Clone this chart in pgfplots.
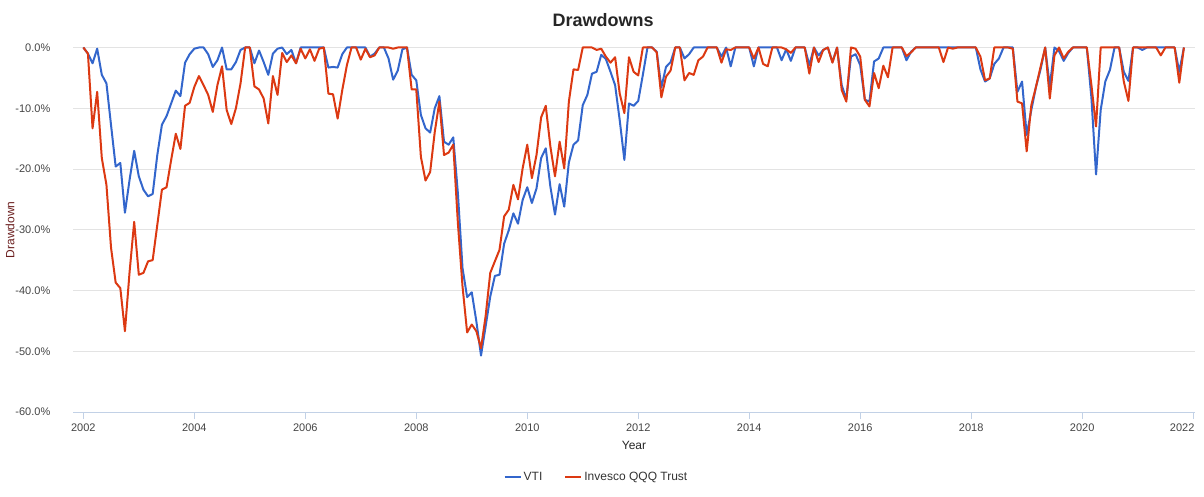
\documentclass[border=0pt]{standalone}
\usepackage{fontspec}
\setmainfont{Liberation Sans}
\usepackage{pgfplots}
\pgfplotsset{compat=1.18}
\usepackage{pgfplotstable}

\definecolor{vticol}{HTML}{3366CC}
\definecolor{qqqcol}{HTML}{DC3912}
\definecolor{gridcol}{HTML}{E3E3E3}
\definecolor{axiscol}{HTML}{C2D1E6}
\definecolor{tickcol}{HTML}{444444}
\definecolor{ylabcol}{HTML}{6B1F1F}

% month index (0 = end of Dec 2001), drawdown in percent
\pgfplotstableread{
m vti qqq
0 0 0
1 -1.0 -1.0
2 -2.6 -13.3
3 -0.2 -7.3
4 -4.5 -18.2
5 -5.9 -22.6
6 -12.8 -33.0
7 -19.6 -38.7
8 -19.0 -39.6
9 -27.2 -46.7
10 -21.8 -37.0
11 -17.0 -28.7
12 -21.2 -37.4
13 -23.4 -37.1
14 -24.5 -35.2
15 -24.1 -35.0
16 -17.7 -29.2
17 -12.7 -23.4
18 -11.3 -23.0
19 -9.2 -18.5
20 -7.1 -14.2
21 -8.0 -16.7
22 -2.5 -9.6
23 -1.1 -9.1
24 -0.2 -6.5
25 0 -4.7
26 0 -6.2
27 -1.1 -7.8
28 -3.2 -10.6
29 -2.1 -6.2
30 0 -3.1
31 -3.6 -10.3
32 -3.6 -12.6
33 -2.4 -10.0
34 -0.4 -5.9
35 0 0
36 0 0
37 -2.6 -6.4
38 -0.5 -6.9
39 -2.4 -8.4
40 -4.5 -12.5
41 -1.0 -4.7
42 -0.2 -7.8
43 0 -0.9
44 -1.1 -2.4
45 -0.4 -1.3
46 -2.6 -2.6
47 0 -0.2
48 0 -1.8
49 0 -0.3
50 0 -2.2
51 0 -0.2
52 0 0
53 -3.3 -7.6
54 -3.2 -7.7
55 -3.3 -11.7
56 -1.1 -7.0
57 0 -2.9
58 0 0
59 0 0
60 0 -2.0
61 0 -0.2
62 -1.5 -1.6
63 -1.0 -1.3
64 0 0
65 0 0
66 -1.8 0
67 -5.3 -0.2
68 -3.8 0
69 -0.3 0
70 0 0
71 -4.5 -6.9
72 -5.4 -6.9
73 -11.1 -18.0
74 -13.3 -21.9
75 -14.0 -20.5
76 -10.0 -13.9
77 -8.0 -8.9
78 -15.5 -17.7
79 -16.0 -17.3
80 -14.8 -16.0
81 -24.0 -28.9
82 -36.3 -39.3
83 -41.1 -46.9
84 -40.3 -45.6
85 -45.1 -46.7
86 -50.7 -49.5
87 -45.9 -44.2
88 -41.0 -37.1
89 -37.6 -35.2
90 -37.4 -33.3
91 -32.3 -27.8
92 -30.1 -26.7
93 -27.3 -22.6
94 -29.0 -25.0
95 -25.1 -19.9
96 -23.0 -16.0
97 -25.6 -21.5
98 -23.2 -17.7
99 -18.2 -11.5
100 -16.6 -9.6
101 -22.9 -16.3
102 -27.5 -21.2
103 -22.5 -15.5
104 -26.2 -19.9
105 -18.9 -8.9
106 -16.0 -3.6
107 -15.3 -3.7
108 -9.5 0
109 -7.8 0
110 -4.3 0
111 -4.0 -0.4
112 -1.2 -0.2
113 -1.9 -1.5
114 -4.0 -2.5
115 -6.2 -1.6
116 -12.0 -7.6
117 -18.5 -10.8
118 -9.2 -1.6
119 -9.6 -4.0
120 -8.8 -4.6
121 -4.5 0
122 0 0
123 0 0
124 -0.7 -0.8
125 -6.6 -8.2
126 -3.2 -4.8
127 -2.4 -3.8
128 0 0
129 0 0
130 -1.8 -5.4
131 -1.1 -4.2
132 0 -4.5
133 0 -2.1
134 0 -1.5
135 0 0
136 0 0
137 0 0
138 -1.5 -2.5
139 0 -0.3
140 -3.1 -0.4
141 0 0
142 0 0
143 0 0
144 0 0
145 -3.1 -1.8
146 0 0
147 0 -2.7
148 0 -3.1
149 0 0
150 0 0
151 -2.1 0
152 -0.3 -0.3
153 -2.2 -0.9
154 0 0
155 0 0
156 0 0
157 -2.9 -4.3
158 0 0
159 -1.3 -2.4
160 -0.4 -0.4
161 0 0
162 -2.4 -2.5
163 0 0
164 -6.2 -7.0
165 -8.5 -8.9
166 -1.5 0
167 -1.1 -0.2
168 -2.9 -1.5
169 -8.6 -8.6
170 -8.9 -9.7
171 -2.3 -4.2
172 -1.8 -6.7
173 0 -3.0
174 0 -4.9
175 0 0
176 0 0
177 0 0
178 -2.1 -1.4
179 -0.7 -0.8
180 0 0
181 0 0
182 0 0
183 0 0
184 0 0
185 0 0
186 0 -2.4
187 0 0
188 0 -0.2
189 0 0
190 0 0
191 0 0
192 0 0
193 0 0
194 -3.6 -1.5
195 -5.6 -5.4
196 -5.1 -5.1
197 -2.7 0
198 -1.8 0
199 0 0
200 0 0
201 0 -0.2
202 -7.3 -8.9
203 -5.6 -9.2
204 -14.4 -17.1
205 -10.3 -9.5
206 -6.5 -6.5
207 -3.6 -3.2
208 0 0
209 -6.4 -8.4
210 0 -1.3
211 -0.6 0
212 -2.2 -1.8
213 -0.9 -0.7
214 0 0
215 0 0
216 0 0
217 0 0
218 -8.3 -6.2
219 -20.9 -13.0
220 -10.3 0
221 -5.6 0
222 -3.7 0
223 0 0
224 0 0
225 -4.0 -5.6
226 -5.5 -8.8
227 0 0
228 0 0
229 -0.4 0
230 0 0
231 0 0
232 0 0
233 0 -1.3
234 0 0
235 0 0
236 0 0
237 -4.0 -5.8
238 0 0
}\dd

\begin{document}
\begin{tikzpicture}
\useasboundingbox (0,0) rectangle (1204pt,-497pt);
\begin{axis}[
  at={(73pt,-412pt)}, anchor=south west,
  scale only axis, width=1122pt, height=364.5pt,
  xmin=-2.23, xmax=240.4, ymin=-60, ymax=0,
  clip=false,
  axis x line*=bottom, axis y line*=left,
  x axis line style={draw=axiscol, line width=1pt},
  y axis line style={draw=none},
  tick align=outside, major tick length=7pt,
  xtick style={draw=axiscol, line width=1pt},
  ytick style={draw=none},
  xtick={0,24,...,216},
  xticklabels={2002,2004,2006,2008,2010,2012,2014,2016,2018,2020},
  extra x ticks={240}, extra x tick labels={2022},
  extra x tick style={xticklabel style={xshift=-11pt}},
  ytick={-60,-50,...,0},
  yticklabels={-60.0\%,-50.0\%,-40.0\%,-30.0\%,-20.0\%,-10.0\%,0.0\%},
  ymajorgrids, grid style={draw=gridcol, line width=1pt},
  ticklabel style={font=\fontsize{11}{13}\selectfont, text=tickcol},
  xticklabel style={anchor=north, inner sep=0pt, yshift=-5pt},
  yticklabel style={anchor=east, inner sep=0pt, xshift=-15.5pt},
  title={Drawdowns},
  title style={at={(axis description cs:0.4724,1)}, anchor=center, yshift=21.5pt,
    font=\fontsize{18}{21}\selectfont\bfseries, text=black!85},
  xlabel={Year},
  xlabel style={at={(axis description cs:0.5,0)}, anchor=center, yshift=-33pt,
    font=\fontsize{12}{14}\selectfont, text=black!85},
  ylabel={Drawdown},
  ylabel style={at={(axis description cs:-0.0561,0.5)}, anchor=center,
    font=\fontsize{12}{14}\selectfont, text=ylabcol},
  legend columns=2,
  legend style={at={(axis description cs:0.4666,0)}, anchor=center, yshift=-64.7pt,
    draw=none, fill=none, font=\fontsize{12}{14}\selectfont, text=black!80,
    /tikz/every even column/.append style={column sep=20pt}},
  legend image code/.code={\draw[#1] (0pt,0pt) -- (16pt,0pt);},
]
\addplot[vticol, line width=2pt, line join=round] table[x=m, y=vti] {\dd};
\addlegendentry{VTI}
\addplot[qqqcol, line width=2pt, line join=round] table[x=m, y=qqq] {\dd};
\addlegendentry{Invesco QQQ Trust}
\end{axis}
\end{tikzpicture}
\end{document}
